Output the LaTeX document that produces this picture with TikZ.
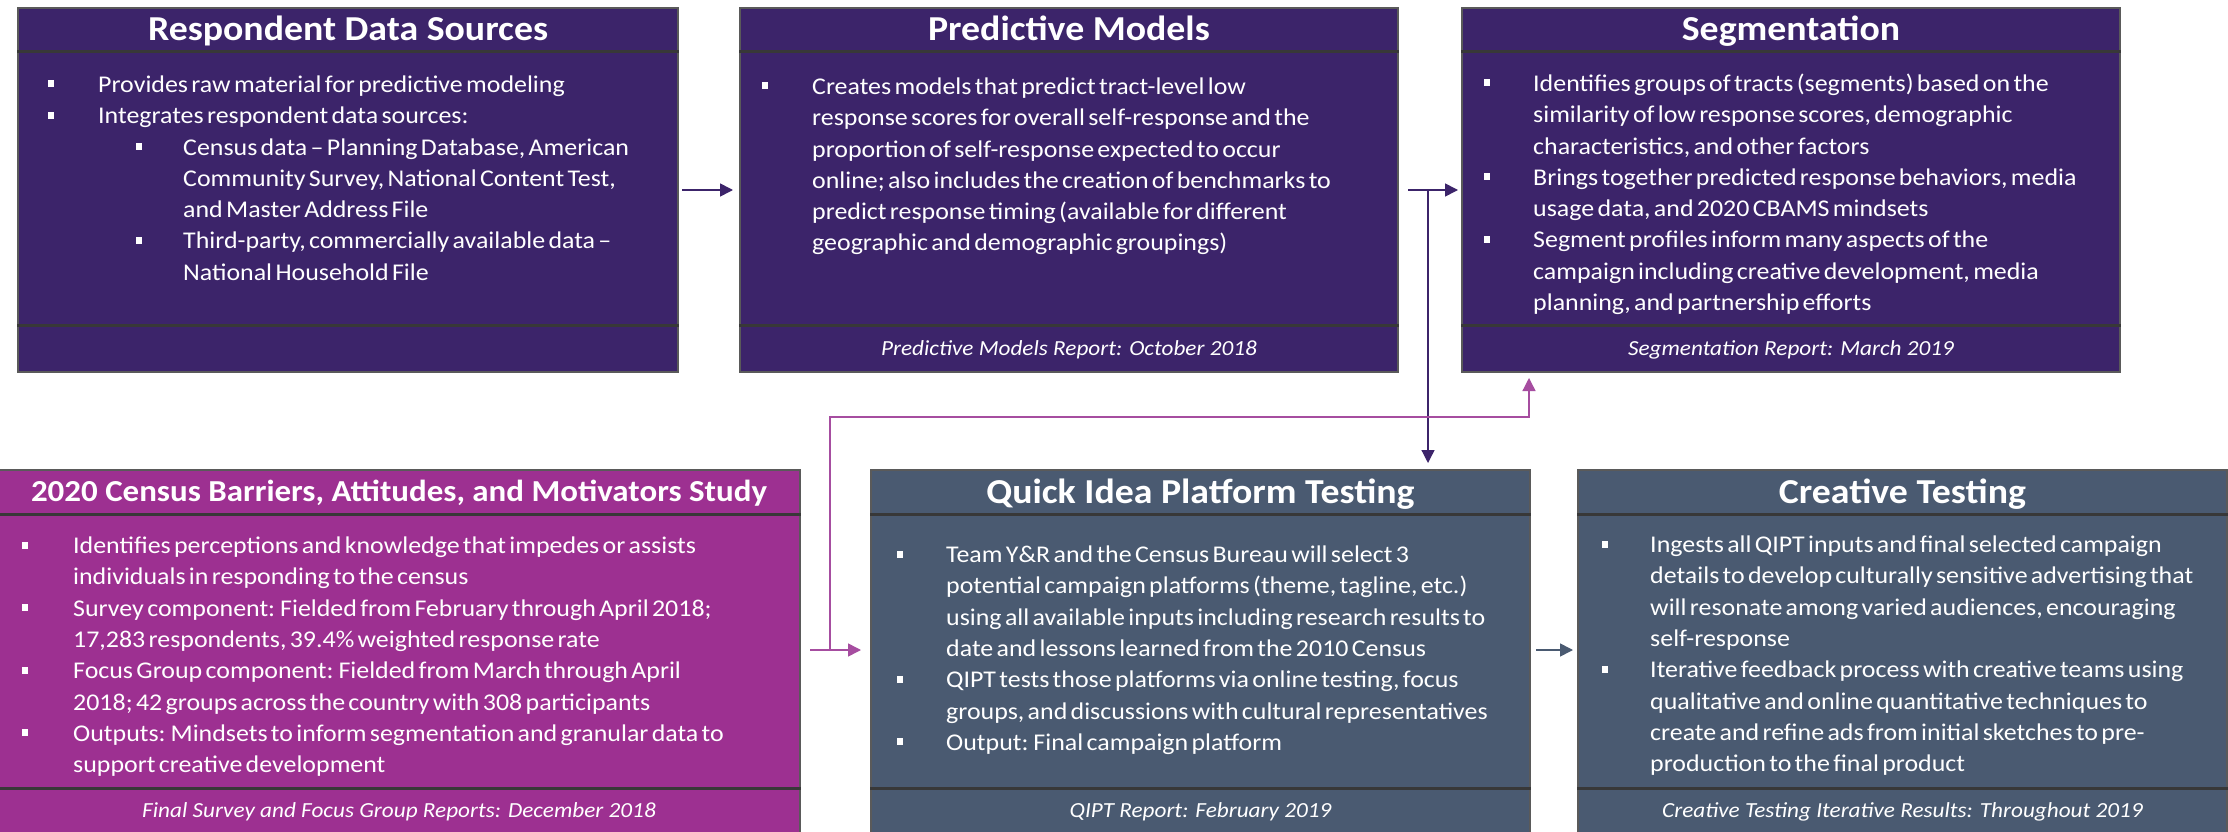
\documentclass[tikz,border=0pt]{standalone}
\usepackage{fontspec}
\setmainfont{Carlito}[FakeStretch=1.08]
\usetikzlibrary{arrows.meta}
\definecolor{topc}{HTML}{3C246A}
\definecolor{cbc}{HTML}{9D3091}
\definecolor{slc}{HTML}{4A5A71}
\definecolor{bord}{HTML}{5A5A5A}
\definecolor{divc}{HTML}{383838}
\definecolor{pline}{HTML}{A64DA0}
\newcommand\bul{\raisebox{5pt}{\rule{6pt}{7pt}}}
\newcommand\itm[2]{\par\noindent\hangindent=#1\hangafter=1\makebox[#1][l]{\bul}#2}
\newcommand\sitm[3]{\par\noindent\hangindent=#2\hangafter=1\hspace*{#1}\makebox[\dimexpr#2-#1\relax][l]{\bul}#3}
\newcommand\fs{\rule{0pt}{22pt}}
\newcommand\bodysetup{\fontsize{24}{31.3}\selectfont\parindent=0pt\parskip=0pt\raggedright}
\tikzset{
  box/.style={draw=bord, line width=2pt, inner sep=0pt, anchor=north west},
  divl/.style={draw=divc, line width=3pt},
  ttl/.style={text=white, anchor=base, inner sep=0pt, font=\fontsize{35}{40}\selectfont\bfseries},
  body/.style={text=white, anchor=north west, inner sep=0pt, align=left, text width=#1},
  foot/.style={text=white, anchor=base, inner sep=0pt, font=\fontsize{21.5}{26}\selectfont\itshape},
  darr/.style={draw=topc, line width=1.6pt, -{Triangle[length=13pt,width=13pt]}},
  parr/.style={draw=pline, line width=1.5pt, -{Triangle[length=13pt,width=13pt]}},
}
\begin{document}
\begin{tikzpicture}[x=1pt,y=-1pt]
\path[use as bounding box, fill=white] (0,0) rectangle (2228,832);

% boxes
\node[box, fill=topc, minimum width=660pt, minimum height=364pt] (b1) at (17,7) {};
\node[box, fill=topc, minimum width=658pt, minimum height=364pt] (b2) at (739,7) {};
\node[box, fill=topc, minimum width=658pt, minimum height=364pt] (b3) at (1461,7) {};
\node[box, fill=cbc, minimum width=802pt, minimum height=372pt] (c) at (-3,469) {};
\node[box, fill=slc, minimum width=659pt, minimum height=372pt] (q) at (870,469) {};
\node[box, fill=slc, minimum width=649pt, minimum height=372pt] (cr) at (1577,469) {};

% dividers
\foreach \b in {b1,b2,b3} {
  \draw[divl] (\b.west |- 0,52) -- (\b.east |- 0,52);
  \draw[divl] (\b.west |- 0,325) -- (\b.east |- 0,325);
}
\foreach \b in {c,q,cr} {
  \draw[divl] (\b.west |- 0,514) -- (\b.east |- 0,514);
  \draw[divl] (\b.west |- 0,788) -- (\b.east |- 0,788);
}

% titles
\node[ttl] (t1) at (b1.center |- 0,40.5) {Respondent Data Sources};
\node[ttl] (t2) at (b2.center |- 0,40.5) {Predictive Models};
\node[ttl] (t3) at (b3.center |- 0,40.5) {Segmentation};
\node[ttl, font=\fontsize{30.5}{36}\selectfont\bfseries] (t4) at (c.center |- 0,501) {2020 Census Barriers, Attitudes, and Motivators Study};
\node[ttl] (t5) at (q.center |- 0,503) {Quick Idea Platform Testing};
\node[ttl] (t6) at (cr.center |- 0,503) {Creative Testing};

% bodies
\node[body=640pt] (x1) at (48,61) {\bodysetup
\itm{50pt}{\fs Provides raw material for predictive modeling}
\itm{50pt}{Integrates respondent data sources:}
\sitm{88pt}{135pt}{Census data -- Planning Database, American\newline Community Survey, National Content Test,\newline and Master Address File}
\sitm{88pt}{135pt}{Third-party, commercially available data --\newline National Household File}\par};

\node[body=640pt] (x2) at (762,63) {\bodysetup
\itm{50pt}{\fs Creates models that predict tract-level low\newline response scores for overall self-response and the\newline proportion of self-response expected to occur\newline online; also includes the creation of benchmarks to\newline predict response timing (available for different\newline geographic and demographic groupings)}\par};

\node[body=640pt] (x3) at (1484,60) {\bodysetup
\itm{49pt}{\fs Identifies groups of tracts (segments) based on the\newline similarity of low response scores, demographic\newline characteristics, and other factors}
\itm{49pt}{Brings together predicted response behaviors, media\newline usage data, and 2020 CBAMS mindsets}
\itm{49pt}{Segment profiles inform many aspects of the\newline campaign including creative development, media\newline planning, and partnership efforts}\par};

\node[body=770pt] (x4) at (22,522) {\bodysetup
\itm{51pt}{\fs Identifies perceptions and knowledge that impedes or assists\newline individuals in responding to the census}
\itm{51pt}{Survey component: Fielded from February through April 2018;\newline 17,283 respondents, 39.4\% weighted response rate}
\itm{51pt}{Focus Group component: Fielded from March through April\newline 2018; 42 groups across the country with 308 participants}
\itm{51pt}{Outputs: Mindsets to inform segmentation and granular data to\newline support creative development}\par};

\node[body=640pt] (x5) at (897,531) {\bodysetup
\itm{49pt}{\fs Team Y\&R and the Census Bureau will select 3\newline potential campaign platforms (theme, tagline, etc.)\newline using all available inputs including research results to\newline date and lessons learned from the 2010 Census}
\itm{49pt}{QIPT tests those platforms via online testing, focus\newline groups, and discussions with cultural representatives}
\itm{49pt}{Output: Final campaign platform}\par};

\node[body=640pt] (x6) at (1602,521) {\bodysetup
\itm{48pt}{\fs Ingests all QIPT inputs and final selected campaign\newline details to develop culturally sensitive advertising that\newline will resonate among varied audiences, encouraging\newline self-response}
\itm{48pt}{Iterative feedback process with creative teams using\newline qualitative and online quantitative techniques to\newline create and refine ads from initial sketches to pre-\newline production to the final product}\par};

% footers
\node[foot] (f2) at (b2.center |- 0,355) {Predictive Models Report: October 2018};
\node[foot] (f3) at (b3.center |- 0,355) {Segmentation Report: March 2019};
\node[foot] (f4) at (c.center |- 0,817) {Final Survey and Focus Group Reports: December 2018};
\node[foot] (f5) at (q.center |- 0,817) {QIPT Report: February 2019};
\node[foot] (f6) at (cr.center |- 0,817) {Creative Testing Iterative Results: Throughout 2019};

% connectors
\draw[darr, shorten <=3pt, shorten >=6pt] (b1.east) -- (b2.west);
\draw[darr, shorten <=9pt, shorten >=3pt] (b2.east) -- (b3.west);
\coordinate (j1) at (1428,189);
\draw[darr, line width=1.3pt, shorten >=6pt] (j1) -- (j1 |- q.north);
\coordinate (py) at (0,650);
\draw[parr, shorten <=9pt, shorten >=9pt] (c.east |- py) -- (q.west |- py);
\coordinate (j2) at (830,650);
\coordinate (k) at (1529,417);
\draw[parr, line width=1.3pt, shorten >=5pt] (j2) |- (k) -- (k |- b3.south);
\draw[darr, draw=slc, shorten <=5pt, shorten >=4pt] (q.east |- py) -- (cr.west |- py);
\end{tikzpicture}
\end{document}
